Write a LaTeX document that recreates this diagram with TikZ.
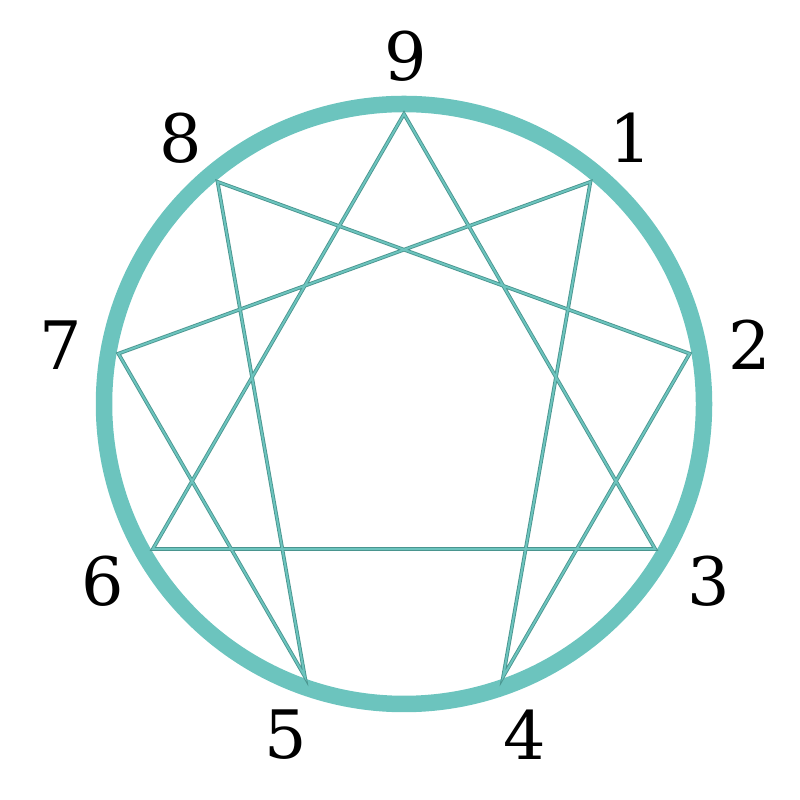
\documentclass[tikz,border=0pt]{standalone}
\usepackage{fontspec}
\setmainfont{DejaVu Serif}
\usetikzlibrary{calc}
\definecolor{teal}{HTML}{6CC4BE}
\definecolor{tealdark}{HTML}{4A958F}
\tikzstyle{num}=[font=\fontsize{19}{21}\selectfont,inner sep=0]
\tikzstyle{ln}=[draw=tealdark,line width=0.25pt,double=teal,double distance=0.55pt]

\begin{document}
\begin{tikzpicture}
    \useasboundingbox (0,0) rectangle (8,8);
    \coordinate (c) at (4.04,3.96);
    \coordinate (cl) at (4.055,3.94);

    \draw[teal,line width=0.165cm] (c) circle (3.0);

    \foreach \i in {0,...,8}{
        \coordinate (p\i) at ($(c)+({90-40*\i}:2.9)$);
        \node[num] (l\i) at ($(cl)+({90-40*\i}:3.5)$) {\ifnum\i=0 9\else\i\fi};
    }

    \path[ln]
    (p0) -- (p3) -- (p6) -- cycle
    (p1) -- (p4) -- (p2) -- (p8) -- (p5) -- (p7) -- cycle
    ;

\end{tikzpicture}
\end{document}
